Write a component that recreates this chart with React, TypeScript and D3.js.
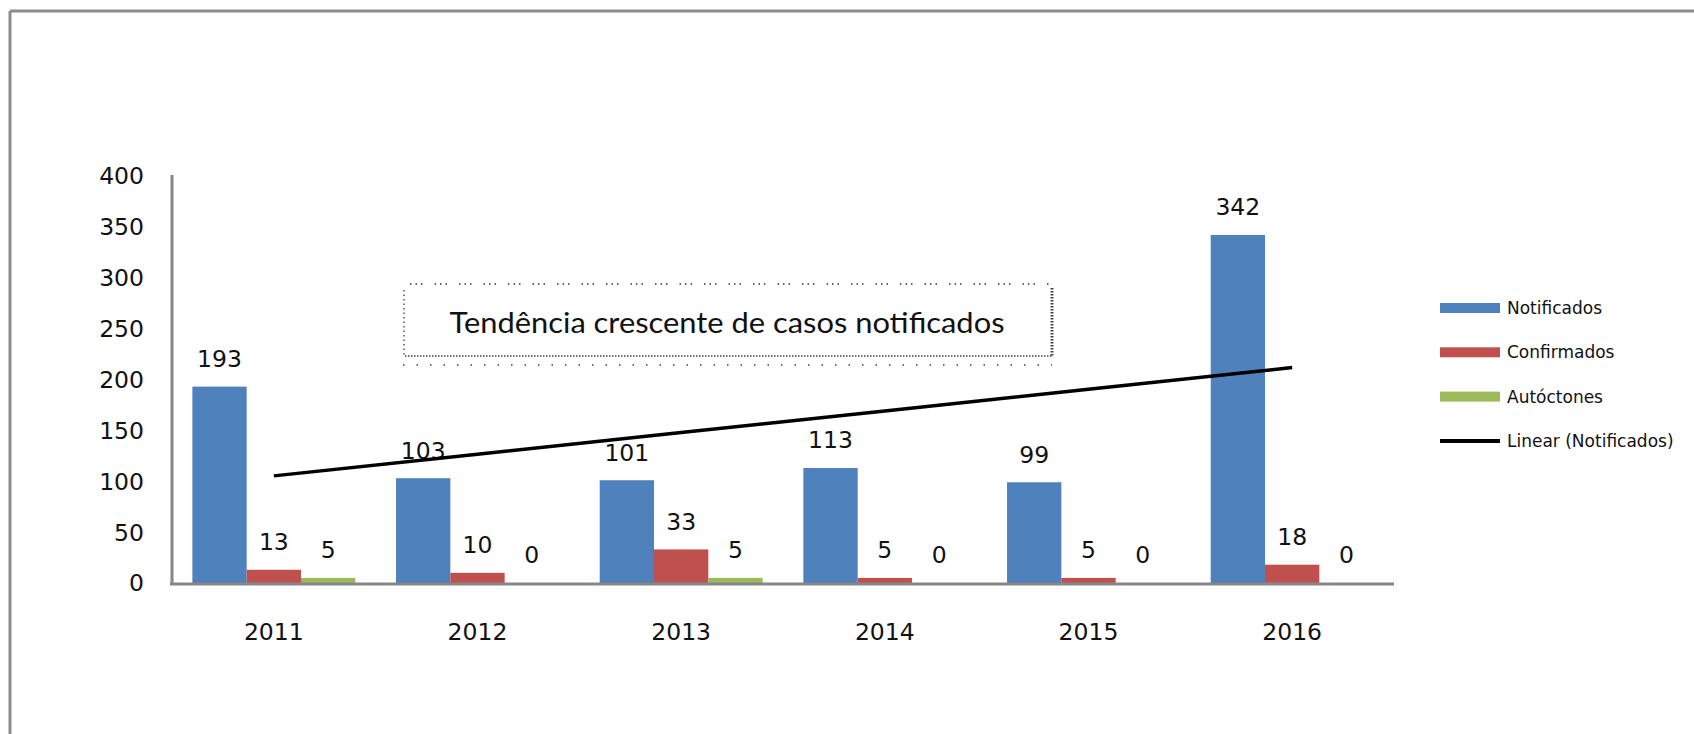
import React from "react";
import * as d3 from "d3";

const years = ["2011", "2012", "2013", "2014", "2015", "2016"];
const notificados = [193, 103, 101, 113, 99, 342];
const confirmados = [13, 10, 33, 5, 5, 18];
const autoctones = [5, 0, 5, 0, 0, 0];
const seriesNames = ["Notificados", "Confirmados", "Autóctones"];
const seriesColors = ["#4F81BD", "#C0504D", "#9BBB59"];
const yTicks = [0, 50, 100, 150, 200, 250, 300, 350, 400];
const trendName = "Linear (Notificados)";
const note = "Tendência crescente de casos notificados";

const W = 1694;
const H = 734;
const plot = { left: 172, right: 1394, top: 176, bottom: 583 };

export default function App() {
  const series = [notificados, confirmados, autoctones];

  const x = d3.scaleBand<string>().domain(years).range([plot.left, plot.right]).paddingInner(0.2).paddingOuter(0.1);
  const inner = d3.scaleBand<number>().domain([0, 1, 2]).range([0, x.bandwidth()]);
  const y = d3.scaleLinear().domain([0, 400]).range([plot.bottom, plot.top]);

  // least squares trend over notificados, x = 1..n
  const n = notificados.length;
  const mx = d3.mean(d3.range(1, n + 1)) as number;
  const my = d3.mean(notificados) as number;
  let sxy = 0;
  let sxx = 0;
  notificados.forEach((v, i) => {
    sxy += (i + 1 - mx) * (v - my);
    sxx += (i + 1 - mx) * (i + 1 - mx);
  });
  const slope = sxy / sxx;
  const trend = (k: number) => my + slope * (k - mx);
  const cx = (i: number) => (x(years[i]) as number) + x.bandwidth() / 2;
  const trendLine = d3.line<number>().x((i) => cx(i)).y((i) => y(trend(i + 1)));

  const numFont = "'DejaVu Sans', Verdana, sans-serif";

  return (
    <svg width={W} height={H} style={{ position: "absolute", left: 0, top: 0 }} fontFamily={numFont}>
      <rect x={0} y={0} width={W} height={H} fill="#fff" />
      {/* outer frame, only top and left visible */}
      <line x1={10} y1={11} x2={W} y2={11} stroke="#8c8c8c" strokeWidth={3} />
      <line x1={10} y1={11} x2={10} y2={H} stroke="#8c8c8c" strokeWidth={3} />

      {/* y tick labels */}
      {yTicks.map((t) => (
        <text key={t} x={144} y={y(t)} dy="0.36em" textAnchor="end" fontSize={23.5} fill="#111">
          {t}
        </text>
      ))}

      {/* bars */}
      {series.map((vals, s) =>
        vals.map((v, i) => (
          <rect
            key={`${s}-${i}`}
            x={(x(years[i]) as number) + (inner(s) as number)}
            y={y(v)}
            width={inner.bandwidth()}
            height={plot.bottom - y(v)}
            fill={seriesColors[s]}
          />
        ))
      )}

      {/* axes */}
      <line x1={plot.left} y1={plot.top - 1} x2={plot.left} y2={plot.bottom + 1} stroke="#868686" strokeWidth={3} />
      <line x1={plot.left - 2} y1={plot.bottom + 1} x2={plot.right} y2={plot.bottom + 1} stroke="#868686" strokeWidth={3} />

      {/* data labels */}
      {series.map((vals, s) =>
        vals.map((v, i) => (
          <text
            key={`l${s}-${i}`}
            x={(x(years[i]) as number) + (inner(s) as number) + inner.bandwidth() / 2}
            y={y(v) - 28}
            dy="0.36em"
            textAnchor="middle"
            fontSize={23.5}
            fill="#111"
          >
            {v}
          </text>
        ))
      )}

      {/* category labels */}
      {years.map((yr, i) => (
        <text key={yr} x={cx(i)} y={632} dy="0.36em" textAnchor="middle" fontSize={23.5} fill="#111">
          {yr}
        </text>
      ))}

      {/* trend line */}
      <path d={trendLine(d3.range(n)) as string} fill="none" stroke="#000" strokeWidth={3.5} />

      {/* annotation box */}
      <g>
        <line x1={410} y1={284} x2={1052} y2={284} stroke="#333" strokeWidth={1.5} strokeDasharray="1.5,4,1.5,4,1.5,12" />
        <line x1={405} y1={356} x2={1052} y2={356} stroke="#444" strokeWidth={1.5} strokeDasharray="1.5,1.5" />
        <line x1={403} y1={365} x2={1052} y2={365} stroke="#444" strokeWidth={1.5} strokeDasharray="1.5,12" />
        <line x1={404} y1={290} x2={404} y2={356} stroke="#555" strokeWidth={1.5} strokeDasharray="1.5,3" />
        <line x1={1052} y1={288} x2={1052} y2={356} stroke="#444" strokeWidth={3} strokeDasharray="1.5,1.5" />
        <text x={727} y={323} dy="0.36em" textAnchor="middle" fontSize={28} fontFamily="Lato, 'Open Sans', sans-serif" fill="#111" textLength={555} lengthAdjust="spacingAndGlyphs">
          {note}
        </text>
      </g>

      {/* legend */}
      {seriesNames.map((name, s) => (
        <g key={name} transform={`translate(1440, ${308 + s * 44.3})`}>
          <rect x={0} y={-5} width={60} height={10} fill={seriesColors[s]} />
          <text x={67} y={0} dy="0.36em" fontSize={17} fill="#111">
            {name}
          </text>
        </g>
      ))}
      <g transform={`translate(1440, ${308 + 3 * 44.3})`}>
        <line x1={0} y1={0} x2={60} y2={0} stroke="#000" strokeWidth={4} />
        <text x={67} y={0} dy="0.36em" fontSize={17} fill="#111">
          {trendName}
        </text>
      </g>
    </svg>
  );
}
